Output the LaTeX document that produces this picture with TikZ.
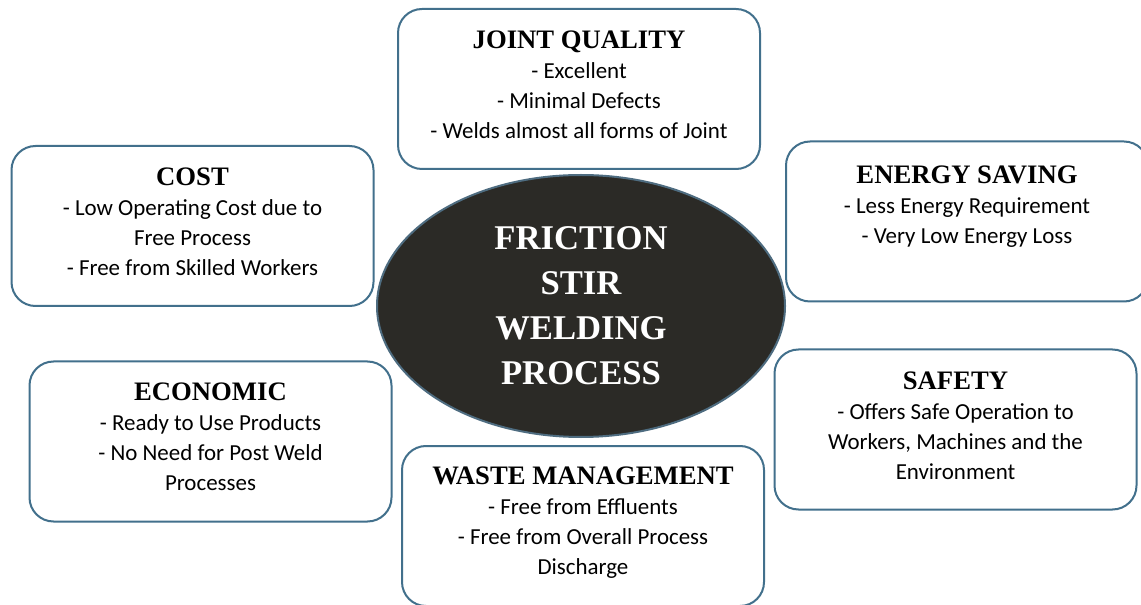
\documentclass[tikz,border=0pt]{standalone}
\usepackage{fontspec}
\setmainfont{Liberation Serif}
\newfontfamily\bodyfont{Carlito}
\usetikzlibrary{shapes.geometric,calc}

\definecolor{boxblue}{RGB}{66,112,140}
\definecolor{hubdark}{RGB}{43,42,38}
\definecolor{hubedge}{RGB}{78,108,128}
\newcommand{\heading}[1]{{\rmfamily\fontsize{20}{22.5}\selectfont\bfseries #1}}

\begin{document}
\begin{tikzpicture}[x=0.75pt,y=-0.75pt,
    feature/.style={draw=boxblue, line width=1.5pt, rounded corners=18pt, fill=white,
        minimum width=271.5pt, minimum height=120pt, inner sep=0pt},
    featuretext/.style={anchor=north, align=center, inner sep=0pt,
        font=\bodyfont\fontsize{17.2}{22.5}\selectfont},
    hub/.style={ellipse, draw=hubedge, line width=1.5pt, fill=hubdark, inner sep=0pt,
        minimum width=306pt, minimum height=196.5pt, text=white, align=center,
        font=\bfseries\fontsize{26}{33.75}\selectfont}]
    \clip (0,0) rectangle (1141,605);
    \fill[white] (0,0) rectangle (1141,605);

    % Benefit boxes
    \node[feature] (joint) at (579,89) {};
    \node[feature] (cost) at (192.5,226) {};
    \node[feature] (energy) at (967,221.5) {};
    \node[feature] (economic) at (210.5,441.5) {};
    \node[feature] (safety) at (955.5,429.5) {};
    \node[feature] (waste) at (583,526) {};

    % Box texts
    \node[featuretext] (jointtxt) at ($(joint.north)+(0,23)$)
        {\heading{JOINT QUALITY}\\- Excellent\\- Minimal Defects\\- Welds almost all forms of Joint};
    \node[featuretext] (costtxt) at ($(cost.north)+(0,23)$)
        {\heading{COST}\\- Low Operating Cost due to\\Free Process\\- Free from Skilled Workers};
    \node[featuretext] (energytxt) at ($(energy.north)+(0,25)$)
        {\heading{ENERGY SAVING}\\- Less Energy Requirement\\- Very Low Energy Loss};
    \node[featuretext] (economictxt) at ($(economic.north)+(0,22)$)
        {\heading{ECONOMIC}\\- Ready to Use Products\\- No Need for Post Weld\\Processes};
    \node[featuretext] (safetytxt) at ($(safety.north)+(0,23)$)
        {\heading{SAFETY}\\- Offers Safe Operation to\\Workers, Machines and the\\Environment};
    \node[featuretext] (wastetxt) at ($(waste.north)+(0,22)$)
        {\heading{WASTE MANAGEMENT}\\- Free from Effluents\\- Free from Overall Process\\Discharge};

    % Central process
    \node[hub] (fsw) at (581,306) {FRICTION\\STIR\\WELDING\\PROCESS};
\end{tikzpicture}
\end{document}
